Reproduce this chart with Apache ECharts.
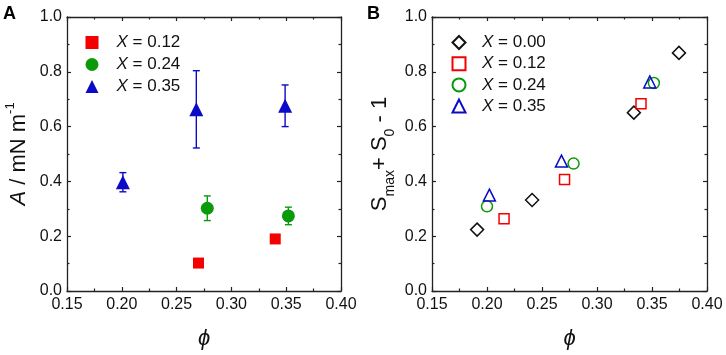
<!DOCTYPE html>
<html>
<head>
<meta charset="utf-8">
<script src="https://cdn.jsdelivr.net/npm/echarts@6/dist/echarts.min.js"></script>
<style>
  html, body { margin: 0; padding: 0; background: #fff; }
  #chart { width: 726px; height: 355px; }
</style>
</head>
<body>
<div id="chart"></div>
<script>
// panel A: amplitude vs phi, with error bars
var a12 = [[0.270, 0.102], [0.340, 0.190]];
var a24 = [[0.278, 0.302, 0.045], [0.352, 0.274, 0.032]];
var a35 = [[0.201, 0.397, 0.035], [0.268, 0.663, 0.141], [0.349, 0.676, 0.076]];

// panel B: Smax + S0 - 1 vs phi
var b00 = [[0.191, 0.224], [0.241, 0.332], [0.3335, 0.651], [0.3745, 0.869]];
var b12 = [[0.2155, 0.264], [0.2705, 0.407], [0.340, 0.683]];
var b24 = [[0.200, 0.309], [0.2787, 0.465], [0.3517, 0.759]];
var b35 = [[0.2022, 0.350], [0.2677, 0.474], [0.348, 0.763]];

var xTicks = { min: 0.15, max: 0.40, interval: 0.05 };
var yTicks = { min: 0, max: 1.0, interval: 0.2 };

var font = 'Liberation Sans, Arial, sans-serif';
var red = '#f50000', green = '#0a9a0a', blue = '#0a0ac8';

var dom = document.getElementById('chart');
var myChart = echarts.init(dom, null, { renderer: 'canvas' });

function xAxis(grid, pos, name) {
  return {
    type: 'value', gridIndex: grid, position: pos,
    min: xTicks.min, max: xTicks.max, interval: xTicks.interval,
    name: name, nameLocation: 'middle', nameGap: 37,
    nameTextStyle: { fontFamily: font, fontSize: 22, fontStyle: 'italic', color: '#111' },
    axisLine: { onZero: false, lineStyle: { color: '#222', width: 1.3 } },
    axisTick: { show: true, inside: true, length: 4, lineStyle: { color: '#222', width: 1.2 } },
    minorTick: { show: true, splitNumber: 2, length: 2.5, lineStyle: { color: '#222', width: 1.2 } },
    axisLabel: {
      show: pos === 'bottom', margin: 6, color: '#111', fontFamily: font, fontSize: 16,
      formatter: function (v) { return v.toFixed(2); }
    },
    splitLine: { show: false }
  };
}

function yAxis(grid, pos, name, gap, rich) {
  return {
    type: 'value', gridIndex: grid, position: pos,
    min: yTicks.min, max: yTicks.max, interval: yTicks.interval,
    name: name, nameLocation: 'middle', nameGap: gap, nameRotate: 90,
    nameTextStyle: { fontFamily: font, fontSize: 22, color: '#111', rich: rich },
    axisLine: { onZero: false, lineStyle: { color: '#222', width: 1.3 } },
    axisTick: { show: true, inside: true, length: 4, lineStyle: { color: '#222', width: 1.2 } },
    minorTick: { show: true, splitNumber: 2, length: 2.5, lineStyle: { color: '#222', width: 1.2 } },
    axisLabel: {
      show: pos === 'left', margin: 5, color: '#111', fontFamily: font, fontSize: 16,
      formatter: function (v) { return v.toFixed(1); }
    },
    splitLine: { show: false }
  };
}

function errorBars(data, color) {
  return {
    name: 'err', type: 'custom', xAxisIndex: 0, yAxisIndex: 0, z: 1,
    data: data,
    renderItem: function (params, api) {
      var x = api.value(0), y = api.value(1), e = api.value(2);
      var top = api.coord([x, y + e]);
      var bot = api.coord([x, y - e]);
      var w = 3.5;
      var style = { stroke: color, lineWidth: 1.4 };
      return {
        type: 'group',
        children: [
          { type: 'line', shape: { x1: top[0], y1: top[1], x2: bot[0], y2: bot[1] }, style: style },
          { type: 'line', shape: { x1: top[0] - w, y1: top[1], x2: top[0] + w, y2: top[1] }, style: style },
          { type: 'line', shape: { x1: bot[0] - w, y1: bot[1], x2: bot[0] + w, y2: bot[1] }, style: style }
        ]
      };
    }
  };
}

function filled(name, data, symbol, size, color) {
  return {
    name: name, type: 'scatter', xAxisIndex: 0, yAxisIndex: 0, z: 3,
    symbol: symbol, symbolSize: size, data: data,
    itemStyle: { color: color, opacity: 1 }
  };
}

function hollow(name, data, symbol, size, color) {
  return {
    name: name, type: 'scatter', xAxisIndex: 2, yAxisIndex: 2, z: 3,
    symbol: symbol, symbolSize: size, data: data,
    itemStyle: { color: 'rgba(255,255,255,0)', borderColor: color, borderWidth: 1.5, opacity: 1 }
  };
}

function legendRich(shift) {
  return {
    i: { fontFamily: font, fontSize: 17, fontStyle: 'italic', color: '#111', lineHeight: 14, padding: [0, 0, 0, shift] },
    n: { fontFamily: font, fontSize: 17, color: '#111', lineHeight: 14 }
  };
}
function legendFmt(n) { return '{i|X}{n| = ' + n.trim().split('= ')[1] + '}'; }

option = {
  animation: false,
  backgroundColor: '#fff',
  grid: [
    { left: 67, top: 17, width: 274, height: 275 },
    { left: 432, top: 17, width: 275, height: 275 }
  ],
  xAxis: [
    xAxis(0, 'bottom', 'ϕ'), xAxis(0, 'top', ''),
    xAxis(1, 'bottom', 'ϕ'), xAxis(1, 'top', '')
  ],
  yAxis: [
    yAxis(0, 'left', '{i|A}{n| / mN m}{sup|-1}', 37, {
      i: { fontFamily: font, fontSize: 22, fontStyle: 'italic', color: '#111', verticalAlign: 'bottom', lineHeight: 26 },
      n: { fontFamily: font, fontSize: 22, color: '#111', verticalAlign: 'bottom', lineHeight: 26 },
      sup: { fontFamily: font, fontSize: 13, color: '#111', verticalAlign: 'top', lineHeight: 26 }
    }),
    yAxis(0, 'right', '', 30, {}),
    yAxis(1, 'left', '{n|S}{sub|max}{n|+ S}{sub|0}{n| - 1}', 35, {
      n: { fontFamily: font, fontSize: 22, color: '#111', verticalAlign: 'top', lineHeight: 28 },
      sub: { fontFamily: font, fontSize: 14, color: '#111', verticalAlign: 'bottom', lineHeight: 28 }
    }),
    yAxis(1, 'right', '', 30, {})
  ],
  legend: [
    {
      orient: 'vertical', left: 85.5, top: 34, padding: 0,
      itemWidth: 13, itemHeight: 13, itemGap: 5,
      data: ['X = 0.12', 'X = 0.24', 'X = 0.35'],
      formatter: legendFmt,
      textStyle: { rich: legendRich(13) }
    },
    {
      orient: 'vertical', left: 451.5, top: 34, padding: 0,
      itemWidth: 13, itemHeight: 13, itemGap: 4.2,
      data: ['X = 0.00 ', 'X = 0.12 ', 'X = 0.24 ', 'X = 0.35 '],
      formatter: legendFmt,
      textStyle: { rich: legendRich(11.5) }
    }
  ],
  graphic: [
    { type: 'text', left: 3, top: 5, style: { text: 'A', font: 'bold 18px ' + font, fill: '#000' } },
    { type: 'text', left: 367, top: 5, style: { text: 'B', font: 'bold 18px ' + font, fill: '#000' } }
  ],
  series: [
    errorBars(a24, green),
    errorBars(a35, blue),
    filled('X = 0.12', a12, 'rect', 11, red),
    filled('X = 0.24', a24, 'circle', 13, green),
    filled('X = 0.35', a35, 'triangle', 14, blue),
    hollow('X = 0.00 ', b00, 'diamond', 13, '#111'),
    hollow('X = 0.12 ', b12, 'rect', 10, red),
    hollow('X = 0.24 ', b24, 'circle', 11, green),
    hollow('X = 0.35 ', b35, 'triangle', 12, blue)
  ]
};

myChart.setOption(option);
window.addEventListener('resize', myChart.resize);
</script>
</body>
</html>
